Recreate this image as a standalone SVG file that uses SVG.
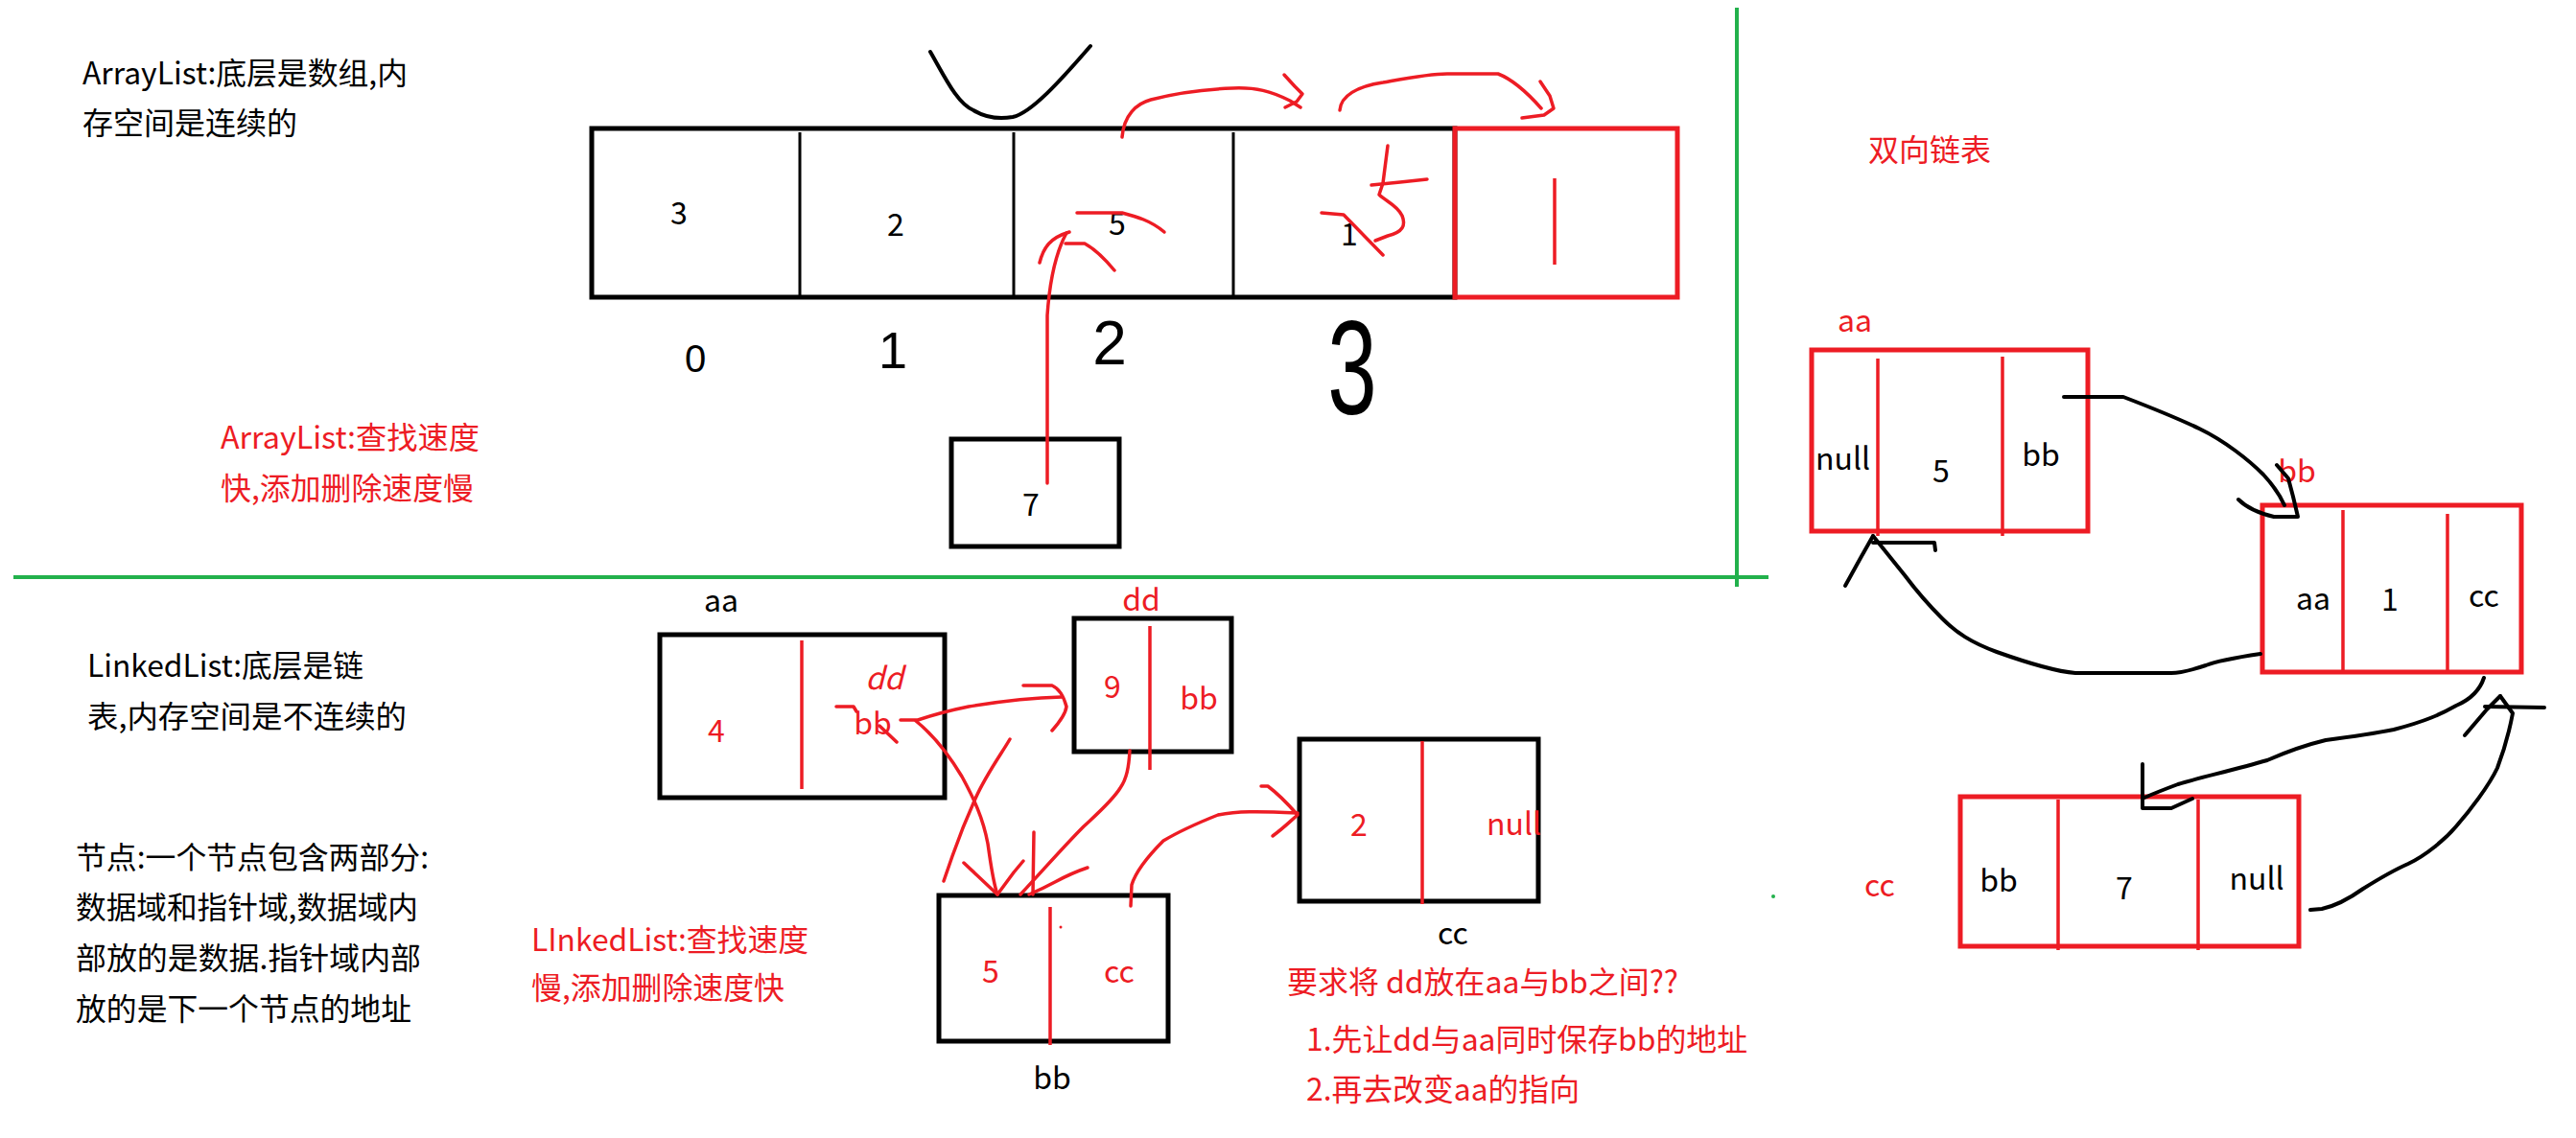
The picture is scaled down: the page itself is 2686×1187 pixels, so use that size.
<svg xmlns="http://www.w3.org/2000/svg" width="2686" height="1187" viewBox="0 0 2686 1187">
<style>
.t{font-family:"Noto Sans CJK SC","Liberation Sans",sans-serif;font-size:32px}
.k{fill:#000}
.r{fill:#ed1c24}
.c{text-anchor:middle}
.box{fill:none;stroke:#000;stroke-width:5}
.rbox{fill:none;stroke:#ed1c24;stroke-width:5}
.dv{stroke:#000;stroke-width:3;fill:none}
.rdv{stroke:#ed1c24;stroke-width:3.5;fill:none}
.rl{fill:none;stroke:#ed1c24;stroke-width:3.5;stroke-linecap:round;stroke-linejoin:round}
.kl{fill:none;stroke:#000;stroke-width:4;stroke-linecap:round;stroke-linejoin:round}
.gl{stroke:#22b14c;stroke-width:4;fill:none}
.hw{font-family:"Liberation Sans","DejaVu Sans",sans-serif;text-anchor:middle;fill:#000}
</style>
<rect width="2686" height="1187" fill="#fff"/>

<g id="dividers">
<path class="gl" d="M1811,8 L1811,612"/>
<path class="gl" d="M14,602 L1844,602"/>
<circle cx="1849" cy="935" r="2" fill="#22b14c"/>
</g>

<g id="arraylist-notes">
<text class="t k" x="86" y="88" textLength="339" lengthAdjust="spacingAndGlyphs">ArrayList:底层是数组,内</text>
<text class="t k" x="86" y="140" textLength="224" lengthAdjust="spacingAndGlyphs">存空间是连续的</text>
<text class="t r" x="230" y="468" textLength="270" lengthAdjust="spacingAndGlyphs">ArrayList:查找速度</text>
<text class="t r" x="230" y="521" textLength="264" lengthAdjust="spacingAndGlyphs">快,添加删除速度慢</text>
</g>

<g id="array">
<rect class="box" x="617" y="134" width="900" height="176"/>
<path class="dv" d="M834,138 L834,309 M1057,138 L1057,309 M1286,138 L1286,309"/>
<text class="t k c" x="708" y="234">3</text>
<text class="t k c" x="934" y="246">2</text>
<text class="t k c" x="1165" y="245">5</text>
<text class="t k c" x="1407" y="256">1</text>
</g>

<g id="array-new-slot">
<rect class="rbox" x="1517" y="134" width="232" height="176"/>
<path class="rdv" d="M1621,186 L1621,276"/>
</g>

<g id="new-element">
<rect class="box" x="992" y="458" width="175" height="112"/>
<text class="t k c" x="1075" y="538">7</text>
</g>

<g id="indices">
<text class="hw" x="725" y="388" font-size="40">0</text>
<text class="hw" x="931" y="384" font-size="54">1</text>
<text class="hw" x="1157" y="380" font-size="64">2</text>
<text class="hw" x="1410" y="432" font-size="84" transform="translate(1410,432) scale(1.1,1.65) translate(-1410,-432)">3</text>
</g>

<g id="linkedlist-notes">
<text class="t k" x="91" y="706" textLength="288" lengthAdjust="spacingAndGlyphs">LinkedList:底层是链</text>
<text class="t k" x="91" y="759" textLength="333" lengthAdjust="spacingAndGlyphs">表,内存空间是不连续的</text>
<text class="t k" x="79" y="906" textLength="368" lengthAdjust="spacingAndGlyphs">节点:一个节点包含两部分:</text>
<text class="t k" x="79" y="958" textLength="357" lengthAdjust="spacingAndGlyphs">数据域和指针域,数据域内</text>
<text class="t k" x="79" y="1011" textLength="360" lengthAdjust="spacingAndGlyphs">部放的是数据.指针域内部</text>
<text class="t k" x="79" y="1064" textLength="350" lengthAdjust="spacingAndGlyphs">放的是下一个节点的地址</text>
<text class="t r" x="554" y="992" textLength="289" lengthAdjust="spacingAndGlyphs">LInkedList:查找速度</text>
<text class="t r" x="554" y="1042" textLength="264" lengthAdjust="spacingAndGlyphs">慢,添加删除速度快</text>
<text class="t r" x="1342" y="1036" textLength="408" lengthAdjust="spacingAndGlyphs">要求将 dd放在aa与bb之间??</text>
<text class="t r" x="1362" y="1096" textLength="460" lengthAdjust="spacingAndGlyphs">1.先让dd与aa同时保存bb的地址</text>
<text class="t r" x="1362" y="1148" textLength="285" lengthAdjust="spacingAndGlyphs">2.再去改变aa的指向</text>
</g>

<g id="ll-aa">
<text class="t k c" x="752" y="638">aa</text>
<rect class="box" x="688" y="662" width="297" height="170"/>
<path class="rdv" d="M836,668 L836,823"/>
<text class="t r c" x="747" y="774">4</text>
<text class="t r c" x="922" y="719" font-size="34" font-style="italic">dd</text>
<text class="t r c" x="910" y="766">bb</text>
</g>

<g id="ll-dd">
<text class="t r c" x="1190" y="637">dd</text>
<rect class="box" x="1120" y="645" width="164" height="139"/>
<path class="rdv" d="M1199,653 L1199,803"/>
<text class="t r c" x="1160" y="728">9</text>
<text class="t r c" x="1250" y="740">bb</text>
</g>

<g id="ll-cc">
<rect class="box" x="1355" y="771" width="249" height="169"/>
<path class="rdv" d="M1483,773 L1483,943"/>
<text class="t r c" x="1417" y="872">2</text>
<text class="t r" x="1550" y="871">null</text>
<text class="t k c" x="1515" y="985">cc</text>
</g>

<g id="ll-bb">
<rect class="box" x="979" y="934" width="239" height="152"/>
<path class="rdv" d="M1095,946 L1095,1090"/>
<circle cx="1106" cy="967" r="1.5" fill="#ed1c24"/>
<text class="t r c" x="1033" y="1025">5</text>
<text class="t r c" x="1167" y="1025">cc</text>
<text class="t k c" x="1097" y="1136">bb</text>
</g>

<g id="dl-title">
<text class="t r" x="1948" y="168" textLength="128" lengthAdjust="spacingAndGlyphs">双向链表</text>
</g>

<g id="dl-aa">
<text class="t r c" x="1934" y="346">aa</text>
<rect class="rbox" x="1889" y="365" width="288" height="189"/>
<path class="rdv" d="M1958,374 L1958,559 M2088,372 L2088,559"/>
<text class="t k" x="1893" y="490">null</text>
<text class="t k c" x="2024" y="503">5</text>
<text class="t k c" x="2128" y="486">bb</text>
</g>

<g id="dl-bb">
<text class="t r c" x="2395" y="503">bb</text>
<rect class="rbox" x="2359" y="527" width="270" height="174"/>
<path class="rdv" d="M2443,532 L2443,701 M2552,536 L2552,701"/>
<text class="t k c" x="2412" y="636">aa</text>
<text class="t k c" x="2492" y="637">1</text>
<text class="t k c" x="2590" y="633">cc</text>
</g>

<g id="dl-cc">
<text class="t r c" x="1960" y="935">cc</text>
<rect class="rbox" x="2044" y="831" width="353" height="156"/>
<path class="rdv" d="M2146,834 L2146,991 M2292,834 L2292,991"/>
<text class="t k c" x="2084" y="930">bb</text>
<text class="t k c" x="2215" y="938">7</text>
<text class="t k c" x="2353" y="928">null</text>
</g>

<g id="connectors">
<!-- array: deleted-element gap mark -->
<path class="kl" d="M970,54 C985,80 998,108 1015,115 C1030,124 1045,124 1056,122 C1075,118 1105,85 1137,48"/>
<!-- array: shift arrows -->
<path class="rl" d="M1170,143 C1172,120 1185,108 1200,104 C1230,96 1260,93 1285,92 C1310,91 1325,95 1345,105 L1356,112"/>
<path class="rl" d="M1339,78 L1350,90 L1358,98 L1352,106 L1340,112"/>
<path class="rl" d="M1397,115 C1398,100 1415,90 1442,86 C1470,81 1490,77 1509,77 L1562,77 C1575,82 1592,96 1607,113"/>
<path class="rl" d="M1606,85 L1616,100 L1620,113 L1610,120 L1587,123"/>
<!-- array: crossed values -->
<path class="rl" d="M1123,222 L1170,222 C1185,226 1200,230 1214,242"/>
<path class="rl" d="M1092,504 L1092,329 C1094,300 1100,265 1112,243"/>
<path class="rl" d="M1084,274 C1088,258 1095,248 1115,242"/>
<path class="rl" d="M1111,254 L1131,254 C1142,260 1152,270 1162,282"/>
<path class="rl" d="M1447,152 L1442,191 L1438,203 C1445,210 1457,214 1462,225 C1466,235 1463,242 1447,246 L1434,251"/>
<path class="rl" d="M1430,193 L1460,190 L1488,187"/>
<path class="rl" d="M1378,222 L1401,224 L1442,266"/>
<!-- linked list: insertion of dd -->
<path class="rl" d="M872,737 L890,737 L893,742"/>
<path class="rl" d="M917,757 L935,774"/>
<path class="rl" d="M939,751 L957,751 C975,745 990,741 1010,737 C1040,732 1070,728 1107,727"/>
<path class="rl" d="M1067,715 L1097,715 C1104,718 1109,726 1112,737 C1111,745 1105,753 1097,762"/>
<path class="rl" d="M955,752 C970,764 985,780 1003,810 C1015,832 1025,853 1030,880 C1033,900 1035,918 1040,933"/>
<path class="rl" d="M1005,900 L1040,933 L1057,910 L1067,898"/>
<path class="rl" d="M1053,771 C1045,785 1028,808 1017,833 C1008,853 1000,873 993,893 L984,919"/>
<path class="rl" d="M1078,868 L1077,933"/>
<path class="rl" d="M1178,783 C1177,800 1175,812 1168,822 C1160,835 1145,848 1130,862 C1110,882 1090,905 1064,933"/>
<path class="rl" d="M1073,933 C1080,930 1087,927 1100,920 C1113,913 1125,908 1134,905"/>
<path class="rl" d="M1179,945 L1180,923 C1184,910 1193,897 1213,877 C1228,868 1240,862 1270,850 C1290,846 1310,846 1353,848"/>
<path class="rl" d="M1315,820 L1322,820 C1330,826 1338,833 1353,850 C1345,857 1338,864 1327,872"/>
<!-- doubly linked list -->
<path class="kl" d="M2152,414 L2214,414 C2240,424 2270,436 2293,447 C2320,460 2345,480 2360,495 C2372,508 2378,518 2382,527"/>
<path class="kl" d="M2334,521 C2340,527 2350,534 2371,539 L2396,539 L2391,518 L2386,499 L2374,485"/>
<path class="kl" d="M2357,682 C2330,686 2310,690 2300,694 C2285,699 2275,702 2264,702 L2164,702 C2140,700 2110,690 2082,680 C2055,670 2040,660 2025,645 C2005,625 1995,612 1986,600 L1953,559"/>
<path class="kl" d="M1953,559 L1940,582 L1924,611"/>
<path class="kl" d="M1953,566 L2017,566 L2018,574"/>
<path class="kl" d="M2590,707 C2585,722 2575,730 2561,736 C2545,745 2530,752 2496,761 C2470,766 2440,770 2425,772 C2400,778 2380,786 2364,793 C2330,803 2290,812 2271,818 C2255,824 2245,828 2236,832"/>
<path class="kl" d="M2234,797 L2234,843 L2264,843 L2286,833"/>
<path class="kl" d="M2409,949 L2421,948 C2435,945 2450,937 2464,927 C2480,917 2495,908 2511,901 C2530,892 2550,875 2561,862 C2575,846 2595,820 2604,801 C2612,780 2617,760 2620,744 L2607,726"/>
<path class="kl" d="M2607,726 L2593,740 L2570,767"/>
<path class="kl" d="M2591,737 L2653,738"/>
</g>
</svg>
